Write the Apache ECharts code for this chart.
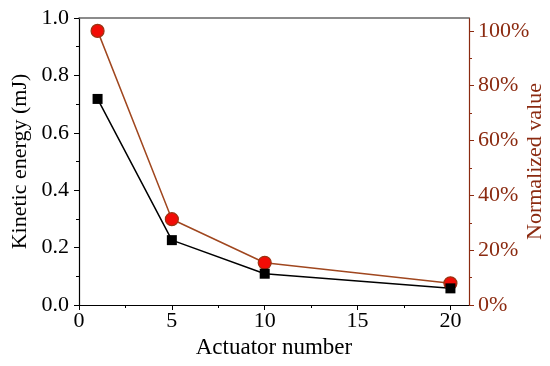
<!DOCTYPE html>
<html><head><meta charset="utf-8">
<script src="https://cdn.jsdelivr.net/npm/echarts@6/dist/echarts.min.js"></script>
<style>html,body{margin:0;padding:0;background:#fff}#c{width:550px;height:366px}</style>
</head><body><div id="c"></div>
<script>
var actuators = [1, 5, 10, 20];
var kineticEnergy = [0.718, 0.226, 0.109, 0.058];
var normalizedValue = [100, 31.3, 15.4, 7.9];
var xTicks = [0, 5, 10, 15, 20];
var xMinorTicks = [2.5, 7.5, 12.5, 17.5];
var rightTicks = [0, 20, 40, 60, 80, 100];
var rightMinorTicks = [10, 30, 50, 70, 90];

var FONT = '"Liberation Serif","Times New Roman",serif';
var RED_AXIS = '#8b2a10';
var G = {left: 79, right: 81, top: 18, bottom: 61, outerBoundsMode: 'none', containLabel: false};
var chart = echarts.init(document.getElementById('c'));
chart.setOption({
  animation: false,
  grid: [Object.assign({}, G), Object.assign({}, G)],
  xAxis: [{
    gridIndex: 0, type: 'value', position: 'bottom', min: 0, max: 21,
    name: 'Actuator number', nameLocation: 'middle', nameGap: 31, nameMoveOverlap: false,
    nameTextStyle: {fontFamily: FONT, fontSize: 23, color: '#000'},
    axisLine: {onZero: false, lineStyle: {color: '#000', width: 1.2}},
    axisTick: {customValues: xTicks, length: 5, lineStyle: {color: '#000'}},
    axisLabel: {customValues: xTicks, fontFamily: FONT, fontSize: 22, color: '#000', margin: 5},
    splitLine: {show: false}
  }, {
    gridIndex: 0, type: 'value', position: 'top', min: 0, max: 21,
    axisLine: {onZero: false, lineStyle: {color: '#666', width: 1.5}},
    axisTick: {show: false}, axisLabel: {show: false}, splitLine: {show: false}
  }, {
    gridIndex: 1, type: 'value', position: 'bottom', min: 0, max: 21,
    axisLine: {show: false, onZero: false},
    axisTick: {customValues: xMinorTicks, length: 3, lineStyle: {color: '#000'}},
    axisLabel: {show: false}, splitLine: {show: false}
  }],
  yAxis: [{
    gridIndex: 0, type: 'value', position: 'left', min: 0, max: 1.0, interval: 0.2,
    name: 'Kinetic energy (mJ)', nameLocation: 'middle', nameGap: 48, nameMoveOverlap: false,
    nameTextStyle: {fontFamily: FONT, fontSize: 22, color: '#000'},
    axisLine: {show: true, onZero: false, lineStyle: {color: '#000', width: 1.2}},
    axisTick: {show: true, length: 5, lineStyle: {color: '#000'}},
    minorTick: {show: true, splitNumber: 2, length: 3, lineStyle: {color: '#000'}},
    axisLabel: {fontFamily: FONT, fontSize: 22, color: '#000', margin: 10,
      formatter: function (v) { return v.toFixed(1); }},
    splitLine: {show: false}
  }, {
    gridIndex: 0, type: 'value', position: 'right', min: 0, max: 104.7,
    name: 'Normalized value', nameLocation: 'middle', nameGap: 55, nameMoveOverlap: false,
    nameTextStyle: {fontFamily: FONT, fontSize: 22, color: RED_AXIS},
    axisLine: {show: true, onZero: false, lineStyle: {color: RED_AXIS, width: 1.2}},
    axisTick: {show: true, customValues: rightTicks, length: 5, lineStyle: {color: RED_AXIS}},
    axisLabel: {customValues: rightTicks, fontFamily: FONT, fontSize: 22, color: RED_AXIS, margin: 9,
      formatter: function (v) { return v + '%'; }},
    splitLine: {show: false}
  }, {
    gridIndex: 1, type: 'value', position: 'right', min: 0, max: 104.7,
    axisLine: {show: false, onZero: false},
    axisTick: {show: true, customValues: rightMinorTicks, length: 3, lineStyle: {color: RED_AXIS}},
    axisLabel: {show: false}, splitLine: {show: false}
  }],
  series: [{
    type: 'line', xAxisIndex: 0, yAxisIndex: 1,
    data: actuators.map(function (x, i) { return [x, normalizedValue[i]]; }),
    symbol: 'circle', symbolSize: 13,
    lineStyle: {color: '#a0471f', width: 1.5},
    itemStyle: {color: '#f20c06', borderColor: '#9b3412', borderWidth: 1.2}
  }, {
    type: 'line', xAxisIndex: 0, yAxisIndex: 0,
    data: actuators.map(function (x, i) { return [x, kineticEnergy[i]]; }),
    symbol: 'rect', symbolSize: 10,
    lineStyle: {color: '#000', width: 1.5},
    itemStyle: {color: '#000'}
  }]
});
</script></body></html>
